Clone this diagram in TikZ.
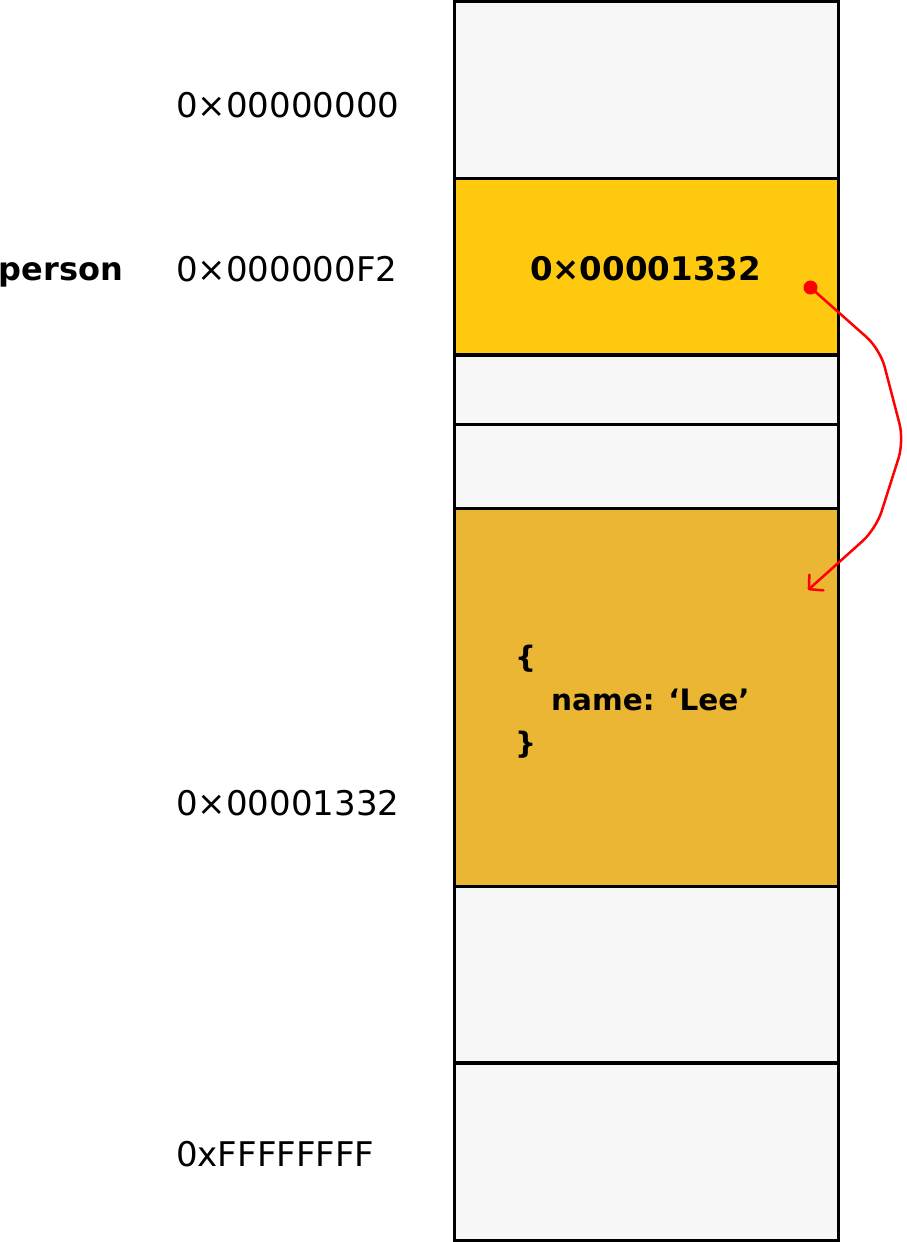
\documentclass[tikz,border=0pt]{standalone}
\usepackage{fontspec}
\setmainfont{DejaVu Sans}
\usetikzlibrary{arrows.meta}
\definecolor{cellgray}{HTML}{F7F7F7}
\definecolor{cellyellow}{HTML}{FEC90F}
\definecolor{cellgold}{HTML}{EBB634}
\definecolor{ptrred}{HTML}{FF0000}
\begin{document}
\begin{tikzpicture}[x=1pt,y=-1pt,
  cell/.style={draw=black, line width=3.2pt, minimum width=384pt, inner sep=0pt, outer sep=0pt, rectangle},
  addr/.style={anchor=base west, inner sep=0pt, font=\fontsize{34}{40}\selectfont},
  lbl/.style={anchor=base west, inner sep=0pt, font=\fontsize{32}{40}\selectfont\bfseries},
  val/.style={anchor=base, inner sep=0pt, font=\fontsize{32.5}{40}\selectfont\bfseries},
  obj/.style={anchor=base west, inner sep=0pt, font=\fontsize{29.5}{40}\selectfont\bfseries},
  ptr/.style={draw=ptrred, line width=2.5pt, rounded corners=18pt, line cap=round}
]
\useasboundingbox (0,0) rectangle (906,1242);

% memory cells
\node[cell, fill=cellgray,   minimum height=177pt]   (r1) at (646.5,90) {};
\node[cell, fill=cellyellow, minimum height=176.5pt] (r2) at (646.5,266.75) {};
\node[cell, fill=cellgray,   minimum height=69.5pt]  (r3) at (646.5,389.75) {};
\node[cell, fill=cellgray,   minimum height=84pt]    (r4) at (646.5,466.5) {};
\node[cell, fill=cellgold,   minimum height=378pt]   (r5) at (646.5,697.5) {};
\node[cell, fill=cellgray,   minimum height=176.5pt] (r6) at (646.5,974.75) {};
\node[cell, fill=cellgray,   minimum height=177.5pt] (r7) at (646.5,1151.75) {};

% addresses
\node[addr] (a1) at (176,117) {0×00000000};
\node[addr] (a2) at (176,281.5) {0×000000F2};
\node[addr] (a3) at (176,815.5) {0×00001332};
\node[addr] (a4) at (176,1166.5) {0xFFFFFFFF};

% variable name
\node[lbl] (person) at (-1.5,280) {person};

% stored value
\node[val] (value) at (645.5,280.5) {0×00001332};

% object
\node[obj] (ob1) at (515,667.5) {\{};
\node[obj] (ob2) at (551,710.5) {name: ‘Lee’};
\node[obj] (ob3) at (515,753.5) {\}};

% pointer
\node[circle, fill=ptrred, minimum size=14pt, inner sep=0pt] (dot) at (810.5,287.5) {};
\coordinate (tip) at (808,590);
\draw[ptr, -{Straight Barb[length=10pt,width=21pt,round]}] (dot.center) -- (880,349) -- (904,441) -- (876,529) -- (tip);
\end{tikzpicture}
\end{document}
